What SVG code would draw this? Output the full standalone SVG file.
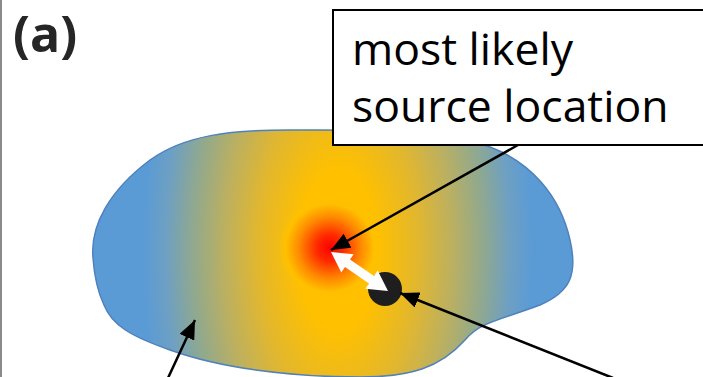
<svg xmlns="http://www.w3.org/2000/svg" width="703" height="377" viewBox="0 0 703 377">
<style>
.lbl{font-family:"Open Sans","Noto Sans",sans-serif;font-size:44.5px;fill:#000}
.ttl{font-family:"Open Sans","Noto Sans",sans-serif;font-size:50px;font-weight:bold;fill:#262626}
.conn{stroke:#000;stroke-width:2.5;fill:none;marker-end:url(#ah)}
</style>
<defs>
<radialGradient id="blobg" gradientUnits="userSpaceOnUse" cx="338" cy="250" r="200" gradientTransform="translate(338,250) scale(1,2) translate(-338,-250)">
<stop offset="0" stop-color="#FFC000"/>
<stop offset="0.2" stop-color="#FFC000"/>
<stop offset="0.4" stop-color="#E2B72E"/>
<stop offset="0.57" stop-color="#BCB060"/>
<stop offset="0.72" stop-color="#92A98C"/>
<stop offset="0.86" stop-color="#6EA0C2"/>
<stop offset="0.97" stop-color="#5B9BD5"/>
<stop offset="1" stop-color="#5B9BD5"/>
</radialGradient>
<radialGradient id="hot" cx="0.5" cy="0.5" r="0.5">
<stop offset="0" stop-color="#FF0000"/>
<stop offset="0.25" stop-color="#FF2800"/>
<stop offset="0.6" stop-color="#FF8A00"/>
<stop offset="0.85" stop-color="#FFC000"/>
<stop offset="1" stop-color="#FFC000" stop-opacity="0"/>
</radialGradient>
<marker id="ah" markerUnits="userSpaceOnUse" markerWidth="20" markerHeight="16" refX="19" refY="8" orient="auto">
<path d="M0,0 L19,8 L0,16 z" fill="#000"/>
</marker>
</defs>
<rect width="703" height="377" fill="#fff"/>
<line x1="1" y1="0" x2="1" y2="377" stroke="#8a8a8a" stroke-width="2"/>
<g id="title"><text class="ttl" x="13" y="52">(a)</text></g>
<g id="region">
<path d="M93,258 C90,225 110,190 150,160 C185,135 230,130 290,130 C360,130 440,128 490,147 C530,162 560,195 570,240 C578,275 570,292 540,305 C500,320 480,322 465,340 C440,368 410,377 360,377 C290,377 220,368 170,350 C130,336 112,325 104,305 C96,288 94,272 93,258 Z" fill="url(#blobg)" stroke="#4F81BD" stroke-width="1.5"/>
<circle cx="330" cy="248" r="52" fill="url(#hot)"/>
</g>
<g id="source"><circle cx="385" cy="289" r="17" fill="#1E1E1E"/></g>
<g id="offset"><polygon points="331,252 353.7,254.2 350,259.6 374,276 377.7,270.6 388,291 365.3,288.8 369,283.4 345,267 341.3,272.4" fill="#fff"/></g>
<g id="labelbox">
<rect x="333" y="10" width="380" height="135" fill="#fff" stroke="#000" stroke-width="2"/>
<text class="lbl" x="352" y="65">most likely</text>
<text class="lbl" x="352" y="122">source location</text>
</g>
<g id="connectors">
<line class="conn" x1="518" y1="145" x2="331" y2="250"/>
<line class="conn" x1="613" y1="378" x2="400" y2="293"/>
<line class="conn" x1="168" y1="378" x2="195" y2="320"/>
</g>
</svg>
